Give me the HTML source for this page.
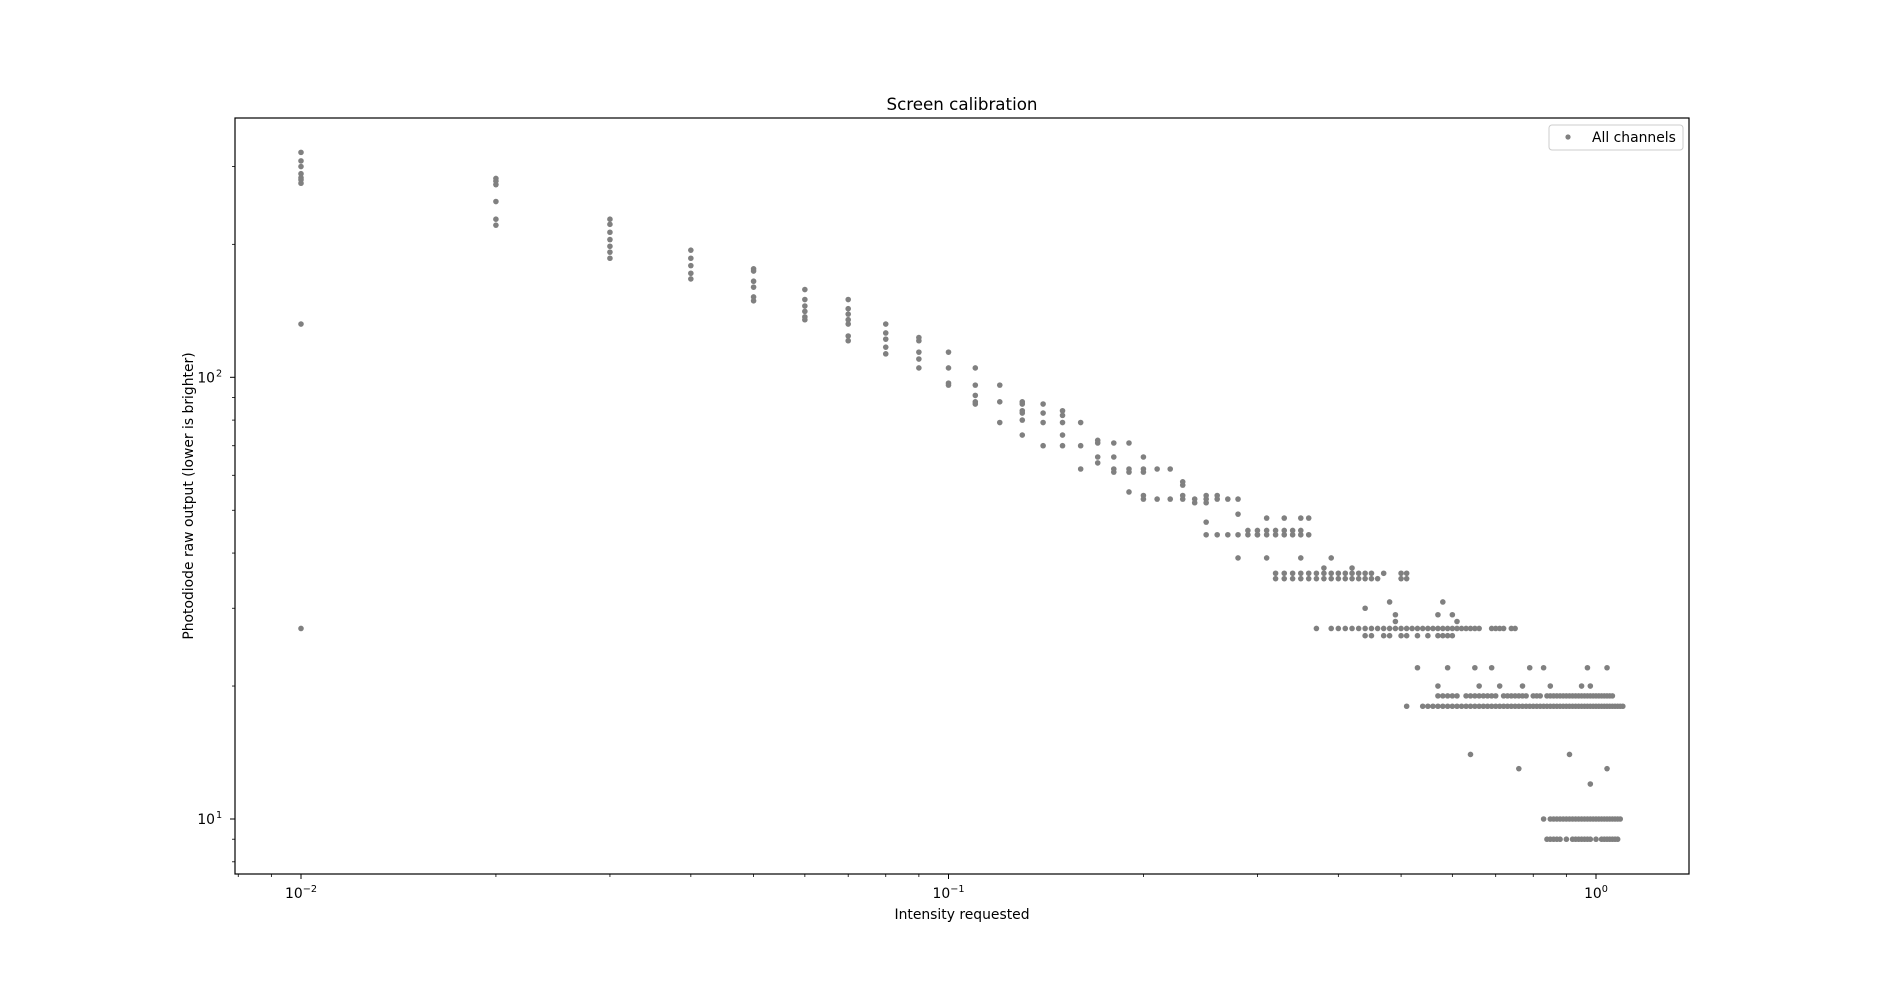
<!DOCTYPE html>
<html><head><meta charset="utf-8"><style>
html,body{margin:0;padding:0;background:#fff;}
svg{display:block;font-family:"DejaVu Sans","Liberation Sans",sans-serif;}
</style></head><body>
<svg id="chart" width="1877" height="982" viewBox="0 0 1877 982" xmlns="http://www.w3.org/2000/svg">
<rect x="0" y="0" width="1877" height="982" fill="#fff"/>
<text x="962" y="110" font-size="16.7" text-anchor="middle">Screen calibration</text>
<text x="962" y="919" font-size="13.9" text-anchor="middle">Intensity requested</text>
<text transform="translate(193,496) rotate(-90)" font-size="13.9" text-anchor="middle">Photodiode raw output (lower is brighter)</text>
<g id="ticks"></g>
<g id="points"></g>
<rect x="235" y="118" width="1454" height="756" fill="none" stroke="#000" stroke-width="1.2"/>
<g>
<rect x="1549" y="125" width="134" height="25" rx="3" fill="#fff" stroke="#ccc" stroke-width="1"/>
<circle cx="1568" cy="137" r="2.6" fill="#808080"/>
<text x="1592" y="142" font-size="13.9">All channels</text>
</g>
</svg>
<script>
const intensities = [0.01,0.02,0.03,0.04,0.05,0.06,0.07,0.08,0.09,0.10,0.11,0.12,0.13,0.14,0.15,0.16,0.17,0.18,0.19,0.20,0.21,0.22,0.23,0.24,0.25,0.26,0.27,0.28,0.29,0.30,0.31,0.32,0.33,0.34,0.35,0.36,0.37,0.38,0.39,0.40,0.41,0.42,0.43,0.44,0.45,0.46,0.47,0.48,0.49,0.50,0.51,0.52,0.53,0.54,0.55,0.56,0.57,0.58,0.59,0.60,0.61,0.62,0.63,0.64,0.65,0.66,0.67,0.68,0.69,0.70,0.71,0.72,0.73,0.74,0.75,0.76,0.77,0.78,0.79,0.80,0.81,0.82,0.83,0.84,0.85,0.86,0.87,0.88,0.89,0.90,0.91,0.92,0.93,0.94,0.95,0.96,0.97,0.98,0.99,1.00,1.01,1.02,1.03,1.04,1.05,1.06,1.07,1.08,1.09,1.10];
const readings = [
[323,309,300,289,283,280,275,132,27],
[282,278,273,250,228,221],
[228,222,213,205,198,192,186],
[194,186,179,172,167],
[176,174,165,160,152,149],
[158,150,145,141,137,135],
[150,143,139,135,132,124,121],
[132,126,122,117,113],
[123,121,114,110,105],
[114,105,97,96],
[105,96,91,88,87],
[96,88,79],
[88,87,84,83,80,74],
[87,83,79,70],
[84,82,79,74,70],
[79,70,62],
[72,71,66,64],
[71,66,62,61],
[71,62,61,55],
[66,62,61,54,53],
[62,53],
[62,53],
[58,57,54,53],
[53,52],
[54,53,52,47,44],
[54,53,44],
[53,44],
[53,49,44,39],
[45,44],
[45,44,44],
[48,45,44,39],
[45,44,36,35],
[48,45,44,36,35],
[45,44,36,35],
[48,45,44,39,36,35],
[48,44,36,35],
[36,35,27],
[37,36,35],
[39,36,35,27],
[36,35,27],
[36,35,27],
[37,36,35,27],
[36,35,27],
[36,35,30,27,26],
[36,35,27,26],
[35,27],
[36,27,26],
[31,27,26],
[29,28,27],
[36,35,27,26],
[36,35,27,26,18],
[27],
[27,26,22],
[27,18],
[27,26,18],
[27,18],
[29,27,26,20,19,18],
[31,27,26,19,18],
[27,26,22,19,18],
[29,27,26,19,18],
[28,27,19,18],
[27,18],
[27,19,18],
[27,19,18,14],
[27,22,19,18],
[27,20,19,18],
[19,18],
[19,18],
[27,22,19,18],
[27,19,18],
[27,20,18],
[27,19,18],
[19,18],
[27,19,18],
[27,19,18],
[19,18,13],
[20,19,18],
[19,18],
[22,18],
[19,18],
[19,18],
[19,18],
[22,18,10],
[19,18,9],
[20,19,18,10,9],
[19,18,10,9],
[19,18,10,9],
[19,18,10,9],
[19,18,10],
[19,18,10,9],
[19,18,14,10],
[19,18,10,9],
[19,18,10,9],
[19,18,10,9],
[20,19,18,10,9],
[19,18,10,9],
[22,19,18,10,9],
[20,19,18,12,10,9],
[19,18,10],
[19,18,10,9],
[19,18,10],
[19,18,10,9],
[19,18,10,9],
[22,19,18,13,10,9],
[19,18,10,9],
[19,18,10,9],
[18,10,9],
[18,10,9],
[18,10],
[18]
];
const xTickExps = [-2,-1,0];
const xTickLabels = ["\u22122","\u22121","0"];
const yTickExps = [1,2];
const yTickLabels = ["1","2"];

const NS = "http://www.w3.org/2000/svg";
function xPos(v){ return 301 + 647.5*(Math.log10(v)+2); }
function yPos(v){ return 377.3 + 441.7*(2-Math.log10(v)); }
function mk(tag, attrs, parent){ const e=document.createElementNS(NS,tag); for(const k in attrs) e.setAttribute(k,attrs[k]); parent.appendChild(e); return e; }

const tg = document.getElementById('ticks');
for(let i=0;i<xTickExps.length;i++){
  const x = xPos(Math.pow(10,xTickExps[i]));
  const t = mk('line',{x1:x,x2:x,y1:874,y2:879,stroke:'#000','stroke-width':1},tg);
  
  
  const lab = mk('text',{x:x,y:898,'font-size':13.9,'text-anchor':'middle'},tg);
  
  
  lab.textContent='10';
  const sup = mk('tspan',{dy:-6,'font-size':9.7},lab);
  sup.textContent = xTickLabels[i];
}
for(let e=-3;e<=0;e++){
  for(let m=2;m<=9;m++){
    const v=m*Math.pow(10,e); const x=xPos(v);
    if(x<235||x>1689) continue;
    const t=mk('line',{x1:x,x2:x,y1:874,y2:877,stroke:'#000','stroke-width':0.8},tg);
    
    
  }
}
for(let i=0;i<yTickExps.length;i++){
  const y = yPos(Math.pow(10,yTickExps[i]));
  const t = mk('line',{x1:230,x2:235,y1:y,y2:y,stroke:'#000','stroke-width':1},tg);
  
  
  const lab = mk('text',{x:215,y:y+5,'font-size':13.9,'text-anchor':'end'},tg);
  
  
  lab.textContent='10';
  const sup = mk('text',{x:216,y:y-1,'font-size':9.7},tg);
  
  
  sup.textContent = yTickLabels[i];
}
for(let e=0;e<=2;e++){
  for(let m=2;m<=9;m++){
    const v=m*Math.pow(10,e); const y=yPos(v);
    if(y<118||y>874) continue;
    const t=mk('line',{x1:232,x2:235,y1:y,y2:y,stroke:'#000','stroke-width':0.8},tg);
    
    
  }
}
const pg = document.getElementById('points');
for(let i=0;i<intensities.length;i++){
  const vals = readings[i];
  for(let j=0;j<vals.length;j++){
    const c = mk('circle',{cx:xPos(intensities[i]),cy:yPos(vals[j]),r:2.8,fill:'#808080'},pg);
    
    
  }
}
</script>
</body></html>
